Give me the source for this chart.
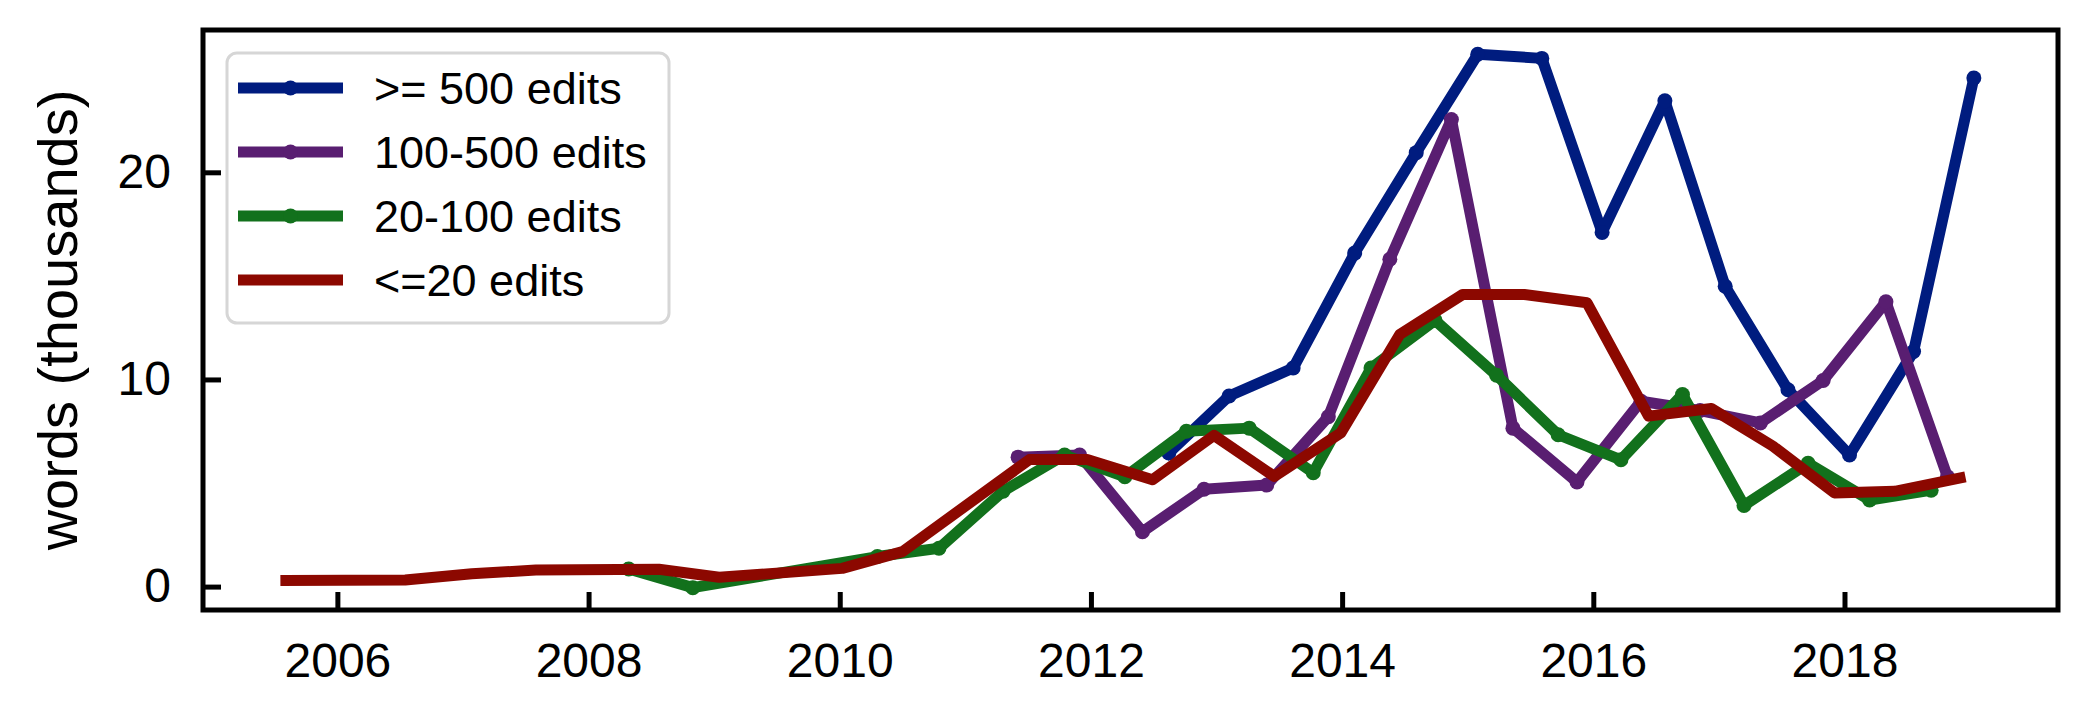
<!DOCTYPE html>
<html>
<head>
<meta charset="utf-8">
<script src="https://cdn.jsdelivr.net/npm/d3@7"></script>
<style>
  body { margin: 0; background: #fff; }
  svg { display: block; font-family: "Liberation Sans", Arial, sans-serif; }
</style>
</head>
<body>
<div id="svg-container"></div>
<script>
// series: [year, words (thousands)]
const over500 = [
  [2012.62, 6.45], [2013.10, 9.2], [2013.61, 10.55], [2014.10, 16.1],
  [2014.59, 20.95], [2015.08, 25.7], [2015.59, 25.5], [2016.07, 17.1],
  [2016.57, 23.45], [2017.05, 14.5], [2017.55, 9.5], [2018.04, 6.35],
  [2018.55, 11.35], [2019.03, 24.55],
];
const from100to500 = [
  [2011.42, 6.25], [2011.91, 6.35], [2012.41, 2.65], [2012.90, 4.7],
  [2013.40, 4.9], [2013.89, 8.2], [2014.38, 15.8], [2014.87, 22.55],
  [2015.36, 7.65], [2015.87, 5.05], [2016.38, 8.95], [2016.85, 8.5],
  [2017.33, 7.9], [2017.83, 9.95], [2018.33, 13.75], [2018.82, 5.3],
];
const from20to100 = [
  [2008.32, 0.85], [2008.83, -0.05], [2010.30, 1.45], [2010.79, 1.85],
  [2011.30, 4.6], [2011.79, 6.35], [2012.27, 5.3], [2012.76, 7.5],
  [2013.26, 7.65], [2013.77, 5.5], [2014.23, 10.55], [2014.74, 12.85],
  [2015.23, 10.2], [2015.72, 7.33], [2016.22, 6.12], [2016.71, 9.27],
  [2017.20, 3.92], [2017.71, 5.95], [2018.20, 4.18], [2018.69, 4.65],
];
const under20 = [
  [2005.59, 0.29], [2006.54, 0.32], [2007.07, 0.62], [2007.58, 0.8],
  [2008.56, 0.84], [2009.04, 0.45], [2010.02, 0.88], [2010.50, 1.69],
  [2011.51, 6.13], [2011.97, 6.13], [2012.49, 5.16], [2012.98, 7.3],
  [2013.46, 5.32], [2013.99, 7.42], [2014.46, 12.18], [2014.96, 14.1],
  [2015.45, 14.1], [2015.95, 13.7], [2016.44, 8.23], [2016.94, 8.6],
  [2017.43, 6.78], [2017.92, 4.52], [2018.40, 4.6], [2018.92, 5.24],
];

const seriesNames = [">= 500 edits", "100-500 edits", "20-100 edits", "<=20 edits"];
const seriesColors = ["#001c7f", "#591e71", "#12711c", "#8c0800"];
const seriesMarkers = [true, true, true, false];
const seriesData = [over500, from100to500, from20to100, under20];

const xTicks = [2006, 2008, 2010, 2012, 2014, 2016, 2018];
const yTicks = [0, 10, 20];
const yLabel = "words (thousands)";

const svgWidth = 2090;
const svgHeight = 717;
const plotLeft = 203;
const plotRight = 2058;
const plotTop = 30;
const plotBottom = 610;

const svg = d3
  .select("#svg-container")
  .append("svg")
  .attr("width", svgWidth)
  .attr("height", svgHeight);

const xScaling = d3
  .scaleLinear()
  .domain([2004.93, 2019.70])
  .range([plotLeft, plotRight]);

const yScaling = d3
  .scaleLinear()
  .domain([-1.13, 26.87])
  .range([plotBottom, plotTop]);

const xAxis = d3
  .axisBottom(xScaling)
  .tickValues(xTicks)
  .tickFormat(d3.format("d"))
  .tickSizeInner(-18)
  .tickSizeOuter(0)
  .tickPadding(33);

const yAxis = d3
  .axisLeft(yScaling)
  .tickValues(yTicks)
  .tickFormat(d3.format("d"))
  .tickSizeInner(-18)
  .tickSizeOuter(0)
  .tickPadding(32);

const gx = svg
  .append("g")
  .attr("transform", `translate(0, ${plotBottom})`)
  .call(xAxis);

const gy = svg
  .append("g")
  .attr("transform", `translate(${plotLeft}, 0)`)
  .call(yAxis);

[gx, gy].forEach((g) => {
  g.select(".domain").remove();
  g.selectAll(".tick line").attr("stroke", "#000").attr("stroke-width", 5);
  g.selectAll(".tick text")
    .attr("fill", "#000")
    .style("font-size", "48px")
    .style("font-family", '"Liberation Sans", Arial, sans-serif');
});

svg
  .append("text")
  .attr("transform", `translate(57, ${(plotTop + plotBottom) / 2}) rotate(-90)`)
  .attr("text-anchor", "middle")
  .attr("dominant-baseline", "central")
  .style("font-size", "56px")
  .text(yLabel);

const line = d3
  .line()
  .x((d) => xScaling(d[0]))
  .y((d) => yScaling(d[1]));

seriesData.forEach((data, i) => {
  svg
    .append("path")
    .datum(data)
    .attr("d", line)
    .attr("fill", "none")
    .attr("stroke", seriesColors[i])
    .attr("stroke-width", 11)
    .attr("stroke-linejoin", "round")
    .attr("stroke-linecap", "square");

  if (seriesMarkers[i]) {
    svg
      .append("g")
      .selectAll("circle")
      .data(data)
      .enter()
      .append("circle")
      .attr("cx", (d) => xScaling(d[0]))
      .attr("cy", (d) => yScaling(d[1]))
      .attr("r", 7.5)
      .attr("fill", seriesColors[i]);
  }
});

// frame (spines)
svg
  .append("rect")
  .attr("x", plotLeft)
  .attr("y", plotTop)
  .attr("width", plotRight - plotLeft)
  .attr("height", plotBottom - plotTop)
  .attr("fill", "none")
  .attr("stroke", "#000")
  .attr("stroke-width", 5);

// legend
const legend = svg.append("g").attr("transform", "translate(227, 53)");

legend
  .append("rect")
  .attr("width", 442)
  .attr("height", 270)
  .attr("rx", 10)
  .attr("fill", "#fff")
  .attr("fill-opacity", 0.8)
  .attr("stroke", "#d6d6d6")
  .attr("stroke-width", 3);

const rows = legend
  .selectAll(".row")
  .data(seriesNames)
  .enter()
  .append("g")
  .attr("class", "row")
  .attr("transform", (d, i) => `translate(0, ${35 + i * 64})`);

rows
  .append("line")
  .attr("x1", 11)
  .attr("x2", 116)
  .attr("stroke", (d, i) => seriesColors[i])
  .attr("stroke-width", 11);

rows
  .filter((d, i) => seriesMarkers[i])
  .append("circle")
  .attr("cx", 63.5)
  .attr("r", 7.5)
  .attr("fill", (d) => seriesColors[seriesNames.indexOf(d)]);

rows
  .append("text")
  .attr("x", 147)
  .attr("dy", "0.36em")
  .style("font-size", "45px")
  .text((d) => d);
</script>
</body>
</html>
